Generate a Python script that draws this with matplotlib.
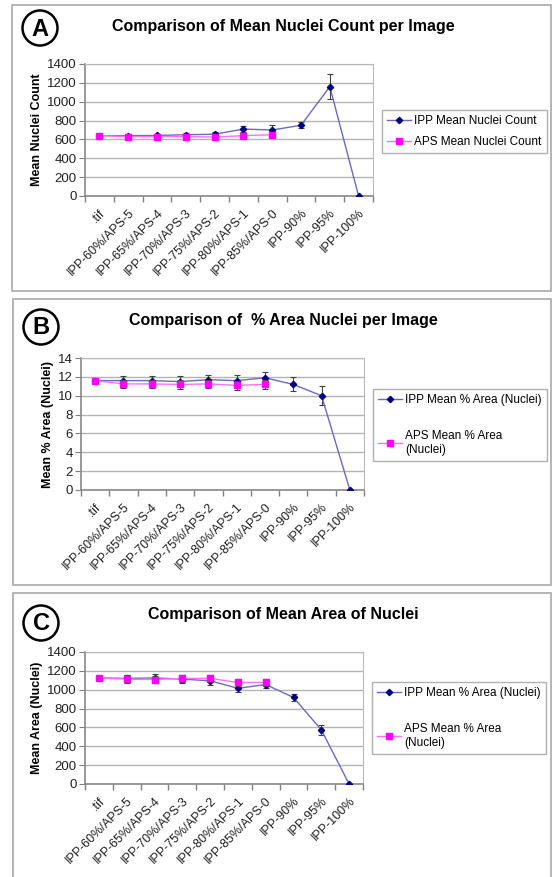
import matplotlib
matplotlib.use('Agg')
import matplotlib.pyplot as plt
from matplotlib.patches import Rectangle, Ellipse
from matplotlib.lines import Line2D
import numpy as np

plt.rcParams['font.family'] = ['Liberation Sans', 'DejaVu Sans']

categories = ['.tif', 'IPP-60%/APS-5', 'IPP-65%/APS-4', 'IPP-70%/APS-3',
              'IPP-75%/APS-2', 'IPP-80%/APS-1', 'IPP-85%/APS-0',
              'IPP-90%', 'IPP-95%', 'IPP-100%']

# panel A: mean nuclei count
ipp_count = [640, 640, 642, 650, 655, 710, 700, 750, 1160, 0]
ipp_count_err = [0, 20, 20, 20, 20, 35, 50, 30, 130, 0]
aps_count = [640, 630, 630, 630, 625, 640, 650]
aps_count_err = [0, 15, 15, 15, 15, 30, 20]

# panel B: % area nuclei
ipp_pct = [11.6, 11.6, 11.6, 11.5, 11.7, 11.6, 11.9, 11.2, 10.0, 0]
ipp_pct_err = [0, 0.5, 0.5, 0.55, 0.5, 0.55, 0.6, 0.75, 1.0, 0]
aps_pct = [11.6, 11.25, 11.25, 11.2, 11.25, 11.1, 11.2]
aps_pct_err = [0, 0.45, 0.45, 0.45, 0.45, 0.45, 0.45]

# panel C: mean area of nuclei
ipp_area = [1125, 1120, 1125, 1112, 1095, 1015, 1055, 918, 575, 0]
ipp_area_err = [0, 40, 40, 40, 40, 35, 35, 35, 50, 0]
aps_area = [1125, 1112, 1108, 1120, 1120, 1077, 1077]
aps_area_err = [0, 40, 40, 35, 40, 40, 35]

IPP_LINE, IPP_MARK = '#6a6ab8', '#000080'
APS_LINE, APS_MARK = '#ff70ff', '#ff00ff'

W, H = 554, 877
fig = plt.figure(figsize=(W / 100, H / 100), dpi=100)


def fx(px):
    return px / W


def fy(py):
    return 1 - py / H


panels = [
    dict(letter='A', title='Comparison of Mean Nuclei Count per Image',
         box=(12, 5, 551, 291), ax=(85, 64, 373, 196), circ=(40, 28), title_y=27,
         ipp=ipp_count, ipp_err=ipp_count_err, aps=aps_count, aps_err=aps_count_err,
         ymax=1400, ystep=200, ylabel='Mean Nuclei Count',
         labels=('IPP Mean Nuclei Count', 'APS Mean Nuclei Count'),
         leg=(382, 110), spacing=0.75),
    dict(letter='B', title='Comparison of  % Area Nuclei per Image',
         box=(13, 299, 551, 585), ax=(81, 358, 364, 490), circ=(41, 327), title_y=321,
         ipp=ipp_pct, ipp_err=ipp_pct_err, aps=aps_pct, aps_err=aps_pct_err,
         ymax=14, ystep=2, ylabel='Mean % Area (Nuclei)',
         labels=('IPP Mean % Area (Nuclei)', 'APS Mean % Area\n(Nuclei)'),
         leg=(373, 389), spacing=2.0),
    dict(letter='C', title='Comparison of Mean Area of Nuclei',
         box=(13, 593, 551, 880), ax=(85, 652, 363, 784), circ=(41, 623), title_y=614,
         ipp=ipp_area, ipp_err=ipp_area_err, aps=aps_area, aps_err=aps_area_err,
         ymax=1400, ystep=200, ylabel='Mean Area (Nuclei)',
         labels=('IPP Mean % Area (Nuclei)', 'APS Mean % Area\n(Nuclei)'),
         leg=(372, 682), spacing=2.0),
]

for p in panels:
    x0, y0, x1, y1 = p['box']
    fig.patches.append(Rectangle((fx(x0), fy(y1)), fx(x1 - x0), (y1 - y0) / H,
                                 transform=fig.transFigure, fill=False,
                                 edgecolor='#a8a8a8', lw=1.2))
    cx, cy = p['circ']
    fig.patches.append(Ellipse((fx(cx), fy(cy)), 35 / W, 35 / H,
                               transform=fig.transFigure, fill=False,
                               edgecolor='black', lw=1.8))
    fig.text(fx(cx), fy(cy + 1), p['letter'], ha='center', va='center',
             fontsize=17, fontweight='bold')
    fig.text(fx(283), fy(p['title_y']), p['title'], ha='center', va='center',
             fontsize=11.5, fontweight='bold')

    l, t, r, b = p['ax']
    ax = fig.add_axes([fx(l), fy(b), fx(r - l), (b - t) / H])
    x = np.arange(len(categories))
    xa = np.arange(len(p['aps']))
    ax.errorbar(x, p['ipp'], yerr=p['ipp_err'], color=IPP_LINE, lw=1.0,
                marker='D', ms=3.2, mfc=IPP_MARK, mec=IPP_MARK,
                ecolor='#404040', elinewidth=0.8, capsize=2.5, capthick=0.8,
                zorder=3)
    ax.errorbar(xa, p['aps'], yerr=p['aps_err'], color=APS_LINE, lw=1.0,
                marker='s', ms=4, mfc=APS_MARK, mec=APS_MARK,
                ecolor='#404040', elinewidth=0.8, capsize=2.5, capthick=0.8,
                zorder=4)
    ax.set_xlim(-0.5, len(categories) - 0.5)
    ax.set_ylim(0, p['ymax'])
    ax.set_yticks(np.arange(0, p['ymax'] + p['ystep'] / 2, p['ystep']))
    ax.yaxis.grid(True, color='#b4b4b4', lw=1.0)
    ax.set_axisbelow(True)
    ax.set_xticks(x)
    ax.set_xticklabels(categories, rotation=45, ha='right', rotation_mode='anchor',
                       fontsize=9, color='#202020')
    ax.set_xticks(np.arange(-0.5, len(categories)), minor=True)
    ax.tick_params(axis='x', which='major', length=0, pad=8)
    ax.tick_params(axis='x', which='minor', length=4, color='#808080', width=1)
    ax.tick_params(axis='y', length=4, color='#808080', labelsize=9.5, pad=2,
                   labelcolor='#202020')
    for s in ['left', 'bottom']:
        ax.spines[s].set_color('#888888')
        ax.spines[s].set_linewidth(1.2)
    for s in ['top', 'right']:
        ax.spines[s].set_color('#b8b8b8')
    ax.set_ylabel(p['ylabel'], fontsize=9, fontweight='bold', labelpad=3)

    handles = [Line2D([], [], color=IPP_LINE, lw=1.0, marker='D', ms=3.2,
                      mfc=IPP_MARK, mec=IPP_MARK),
               Line2D([], [], color=APS_LINE, lw=1.0, marker='s', ms=4,
                      mfc=APS_MARK, mec=APS_MARK)]
    lx, ly = p['leg']
    ax.legend(handles, p['labels'], loc='upper left', bbox_to_anchor=(fx(lx), fy(ly)),
              bbox_transform=fig.transFigure, fontsize=8.5, frameon=True,
              fancybox=False, edgecolor='#b0b0b0', framealpha=1,
              borderpad=0.45, handlelength=2.0, handletextpad=0.3,
              labelspacing=p['spacing'], borderaxespad=0)

fig.savefig('out.png', dpi=100)
